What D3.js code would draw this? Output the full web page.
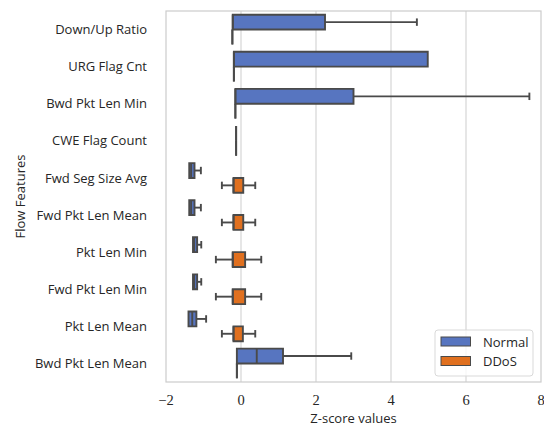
<!DOCTYPE html>
<html>
<head>
<meta charset="UTF-8">
<script src="https://d3js.org/d3.v7.min.js"></script>
<style>
  body { margin: 0; background: #fff; }
  .lbl { font-family: "Open Sans", "DejaVu Sans", sans-serif; font-size: 13px; fill: #262626; }
  .tick-num { font-family: "Liberation Serif", "DejaVu Serif", serif; font-size: 14.5px; fill: #262626; }
</style>
</head>
<body>
<svg width="544" height="430"></svg>
<script>
// features, top to bottom
const features = ["Down/Up Ratio", "URG Flag Cnt", "Bwd Pkt Len Min", "CWE Flag Count",
  "Fwd Seg Size Avg", "Fwd Pkt Len Mean", "Pkt Len Min", "Fwd Pkt Len Min",
  "Pkt Len Mean", "Bwd Pkt Len Mean"];
const groups = ["Normal", "DDoS"];
const colors = ["#5775c0", "#e0701f"];

// [lower whisker, q1, median, q3, upper whisker]
const normalStats = [
  [-0.22, -0.22, -0.22, 2.24, 4.69],
  [-0.19, -0.19, -0.19, 4.98, 4.98],
  [-0.15, -0.15, -0.15, 3.00, 7.69],
  [-0.13, -0.13, -0.13, -0.13, -0.13],
  [-1.38, -1.38, -1.33, -1.24, -1.07],
  [-1.38, -1.38, -1.33, -1.24, -1.07],
  [-1.28, -1.28, -1.25, -1.17, -1.06],
  [-1.28, -1.28, -1.25, -1.17, -1.06],
  [-1.40, -1.40, -1.30, -1.19, -0.93],
  [-0.11, -0.11, 0.42, 1.12, 2.94]
];
const ddosStats = [
  [-0.23, -0.23, -0.23, -0.23, -0.23],
  [-0.19, -0.19, -0.19, -0.19, -0.19],
  [-0.15, -0.15, -0.15, -0.15, -0.15],
  [-0.13, -0.13, -0.13, -0.13, -0.13],
  [-0.51, -0.20, -0.20, 0.06, 0.38],
  [-0.51, -0.20, -0.20, 0.06, 0.38],
  [-0.67, -0.22, -0.22, 0.11, 0.54],
  [-0.67, -0.22, -0.22, 0.11, 0.54],
  [-0.51, -0.20, -0.20, 0.05, 0.38],
  [-0.11, -0.11, -0.11, -0.11, -0.11]
];
const xTicks = [-2, 0, 2, 4, 6, 8];

const svg = d3.select("svg");
const mLeft = 166, mRight = 541, mTop = 11, mBottom = 382;

const x = d3.scaleLinear().domain([-2, 8]).range([mLeft, mRight]);
const y = d3.scaleBand().domain(features).range([mTop, mBottom]);
const hue = d3.scaleBand().domain(groups).range([0.1 * y.bandwidth(), 0.9 * y.bandwidth()]);

// grid
svg.append("g").selectAll("line")
  .data(xTicks.filter(t => t > -2 && t < 8))
  .enter().append("line")
  .attr("x1", d => x(d)).attr("x2", d => x(d))
  .attr("y1", mTop).attr("y2", mBottom)
  .attr("stroke", "#d6d6d6").attr("stroke-width", 1.2);

// frame
svg.append("rect")
  .attr("x", mLeft).attr("y", mTop)
  .attr("width", mRight - mLeft).attr("height", mBottom - mTop)
  .attr("fill", "none").attr("stroke", "#cccccc").attr("stroke-width", 1.2);

const edge = "#4a4a4a";
const sw = 1.9;
const boxes = [];
features.forEach((f, i) => {
  boxes.push({ f, g: 0, s: normalStats[i] });
  boxes.push({ f, g: 1, s: ddosStats[i] });
});

const bg = svg.append("g").selectAll("g").data(boxes).enter().append("g")
  .attr("transform", d => `translate(0,${y(d.f) + hue(groups[d.g])})`);
const bw = hue.bandwidth();

// whiskers
bg.append("line")
  .attr("x1", d => x(d.s[0])).attr("x2", d => x(d.s[1]))
  .attr("y1", bw / 2).attr("y2", bw / 2)
  .attr("stroke", edge).attr("stroke-width", sw);
bg.append("line")
  .attr("x1", d => x(d.s[3])).attr("x2", d => x(d.s[4]))
  .attr("y1", bw / 2).attr("y2", bw / 2)
  .attr("stroke", edge).attr("stroke-width", sw);
// caps
[0, 4].forEach(k => {
  bg.filter(d => d.s[k] !== d.s[k === 0 ? 1 : 3]).append("line")
    .attr("x1", d => x(d.s[k])).attr("x2", d => x(d.s[k]))
    .attr("y1", bw * 0.25).attr("y2", bw * 0.75)
    .attr("stroke", edge).attr("stroke-width", sw);
});
// box
bg.append("path")
  .attr("d", d => `M${x(d.s[1])},0H${x(d.s[3])}V${bw}H${x(d.s[1])}Z`)
  .attr("fill", d => colors[d.g])
  .attr("stroke", edge).attr("stroke-width", sw);
// median
bg.append("line")
  .attr("x1", d => x(d.s[2])).attr("x2", d => x(d.s[2]))
  .attr("y1", 0).attr("y2", bw)
  .attr("stroke", edge).attr("stroke-width", sw);

// y labels
svg.append("g").selectAll("text").data(features).enter().append("text")
  .attr("class", "lbl")
  .attr("x", 147).attr("y", d => y(d) + y.bandwidth() / 2)
  .attr("dy", "0.35em").attr("text-anchor", "end")
  .text(d => d);

// x tick labels
svg.append("g").selectAll("text").data(xTicks).enter().append("text")
  .attr("class", "tick-num")
  .attr("x", d => x(d)).attr("y", 405)
  .attr("text-anchor", "middle")
  .text(d => d < 0 ? "\u2212" + Math.abs(d) : d);

svg.append("text").attr("class", "lbl")
  .attr("x", (mLeft + mRight) / 2).attr("y", 423)
  .attr("text-anchor", "middle").text("Z-score values");

svg.append("text").attr("class", "lbl")
  .attr("transform", `translate(25,${(mTop + mBottom) / 2}) rotate(-90)`)
  .attr("text-anchor", "middle").text("Flow Features");

// legend
const lg = svg.append("g").attr("transform", "translate(435,330)");
lg.append("rect").attr("width", 98).attr("height", 46).attr("rx", 3)
  .attr("fill", "#fff").attr("fill-opacity", 0.8)
  .attr("stroke", "#d9d9d9").attr("stroke-width", 1);
groups.forEach((g, i) => {
  lg.append("rect").attr("x", 6).attr("y", 7 + i * 19.5)
    .attr("width", 29.5).attr("height", 9)
    .attr("fill", colors[i]).attr("stroke", edge).attr("stroke-width", 1);
  lg.append("text").attr("class", "lbl")
    .attr("x", 48).attr("y", 12 + i * 19.5).attr("dy", "0.35em")
    .text(g);
});
</script>
</body>
</html>
